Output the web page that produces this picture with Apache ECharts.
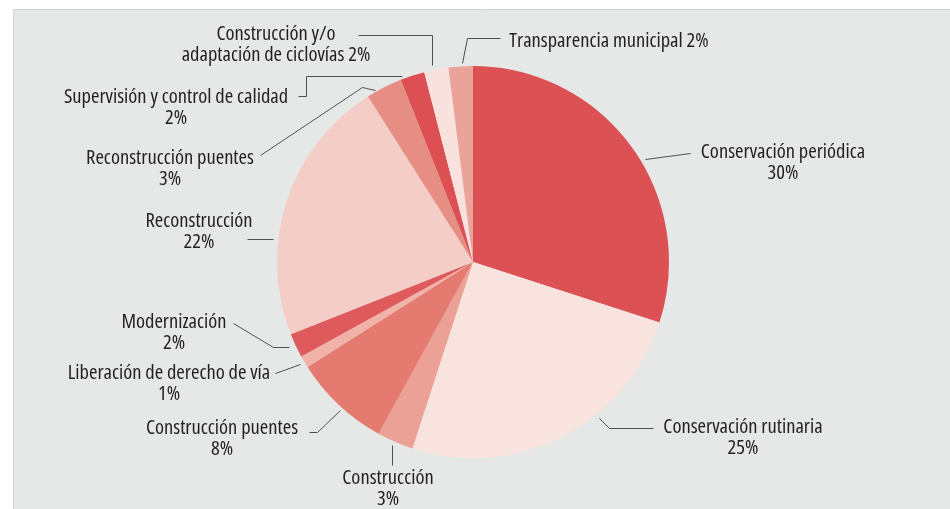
<!DOCTYPE html>
<html lang="es">
<head>
<meta charset="UTF-8">
<title>Distribución de inversión</title>
<script src="https://cdn.jsdelivr.net/npm/echarts@6/dist/echarts.min.js"></script>
<style>
    body { margin: 0; padding: 0; background: #ffffff; }
    #main { width: 950px; height: 509px; }
</style>
</head>
<body>
<div id="main"></div>
<script>
    // datos
    var names = [
        'Conservación periódica',
        'Conservación rutinaria',
        'Construcción',
        'Construcción puentes',
        'Liberación de derecho de vía',
        'Modernización',
        'Reconstrucción',
        'Reconstrucción puentes',
        'Supervisión y control de calidad',
        'Construcción y/o\nadaptación de ciclovías',
        'Transparencia municipal'
    ];
    var values = [30, 25, 3, 8, 1, 2, 22, 3, 2, 2, 2];
    var colors = ['#dc5254', '#f8e3de', '#eba196', '#e57b70', '#f1b2a8', '#de5a5c',
                  '#f4cdc6', '#e68d84', '#dc5054', '#f9e2de', '#eba298'];
    // separador entre nombre y porcentaje
    var joins = ['\n', '\n', '\n', '\n', '\n', '\n', '\n', '\n', '\n', ' ', ' '];

    // posicion de etiquetas (centro x, borde superior y) y lineas guia
    var labelPos = [
        { x: 783, y: 142, line: [[645, 159], [690, 153]] },
        { x: 743, y: 417, line: [[599, 418], [609, 428], [653, 428]] },
        { x: 388, y: 468, line: [[392, 445], [392, 465]] },
        { x: 222, y: 418, line: [[340, 410], [317, 432], [309, 432]] },
        { x: 169, y: 363, line: [[300, 364], [275, 373]] },
        { x: 174, y: 312, line: [[289, 347], [273, 347], [233, 323]] },
        { x: 199, y: 211, line: [[273, 239], [247, 239]] },
        { x: 170, y: 148, line: [[375, 90], [362, 87], [260, 155]] },
        { x: 176, y: 87, line: [[402, 76], [306, 76], [306, 96], [298, 96]] },
        { x: 276, y: 24, line: [[432, 65], [432, 35], [358, 35]] },
        { x: 609, y: 31, line: [[462, 63], [467, 38], [500, 38]] }
    ];

    var chart = echarts.init(document.getElementById('main'));

    var seriesData = names.map(function (n, i) {
        return { name: n, value: values[i], itemStyle: { color: colors[i] } };
    });

    var option = {
        backgroundColor: '#ffffff',
        animation: false,
        graphic: [{
            type: 'rect',
            z: -10,
            shape: { x: 13.5, y: 9.5, width: 960, height: 520 },
            style: { fill: '#e6e7e7', stroke: '#d2d3d3', lineWidth: 1 }
        }],
        series: [{
            type: 'pie',
            center: [473, 262],
            radius: 196,
            startAngle: 90,
            clockwise: true,
            avoidLabelOverlap: false,
            itemStyle: { borderWidth: 0 },
            emphasis: { disabled: true },
            label: {
                show: true,
                position: 'outside',
                color: '#231f20',
                fontSize: 20.5,
                lineHeight: 21,
                // font-stretch condensado dentro del shorthand del canvas
                fontWeight: 'condensed',
                fontFamily: "'Open Sans', sans-serif",
                formatter: function (p) {
                    return p.name + joins[p.dataIndex] + p.value + '%';
                }
            },
            labelLine: {
                show: true,
                length: 10,
                length2: 10,
                lineStyle: { color: '#505050', width: 1 }
            },
            labelLayout: function (params) {
                var pos = labelPos[params.dataIndex];
                return {
                    x: pos.x,
                    y: pos.y,
                    align: 'center',
                    verticalAlign: 'top',
                    labelLinePoints: pos.line.map(function (pt) {
                        return [pt[0] + 0.5, pt[1] + 0.5];
                    })
                };
            },
            data: seriesData
        }]
    };

    chart.setOption(option);
</script>
</body>
</html>
